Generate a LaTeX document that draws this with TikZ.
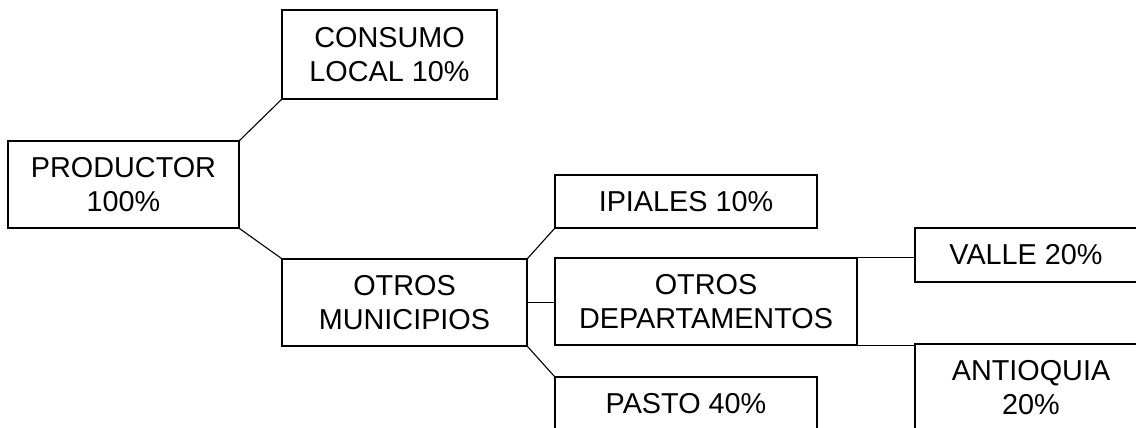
\documentclass[tikz,border=0pt]{standalone}
\usepackage{fontspec}
\setmainfont{Liberation Sans}
\begin{document}
\begin{tikzpicture}[x=1pt,y=-1pt,
  box/.style={draw=black, line width=1.1pt, align=center, inner sep=0pt,
    font=\fontsize{28.8}{33.3}\selectfont},
  link/.style={draw=black, line width=1.1pt}]
\useasboundingbox (0,0) rectangle (1136,428);
\clip (0,0) rectangle (1136,428);
\fill[white] (0,0) rectangle (1136,428);
\node[box, minimum width=231pt, minimum height=87pt] (prod) at (123.5,184.5) {PRODUCTOR\\100\%};
\node[box, minimum width=215pt, minimum height=89pt] (cons) at (389.5,54.5) {CONSUMO\\LOCAL 10\%};
\node[box, minimum width=245pt, minimum height=87pt] (mun) at (404.5,302.5) {OTROS\\MUNICIPIOS};
\node[box, minimum width=262pt, minimum height=53pt] (ipi) at (686,201.5) {IPIALES 10\%};
\node[box, minimum width=302pt, minimum height=87pt] (dep) at (706,301.5) {OTROS\\DEPARTAMENTOS};
\node[box, minimum width=262pt, minimum height=53pt] (pasto) at (686,403.5) {PASTO 40\%};
\node[box, minimum width=222pt, minimum height=54pt] (valle) at (1026,255) {VALLE 20\%};
\node[box, minimum width=232pt, minimum height=87pt] (antio) at (1031,387.5) {ANTIOQUIA\\20\%};
\draw[link] (prod.north east) -- (cons.south west);
\draw[link] (prod.south east) -- (mun.north west);
\draw[link] (mun.north east) -- (ipi.south west);
\draw[link] (mun.east) -- (mun.east -| dep.west);
\draw[link] (mun.south east) -- (pasto.north west);
\draw[link] (dep.north east) -- (dep.north east -| valle.west);
\draw[link] (dep.south east) -- (dep.south east -| antio.west);
\end{tikzpicture}
\end{document}
